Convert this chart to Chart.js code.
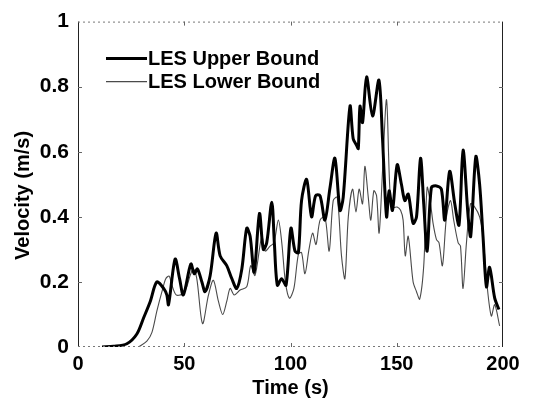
<!DOCTYPE html>
<html>
<head>
<meta charset="utf-8">
<script src="https://cdn.jsdelivr.net/npm/chart.js@4.4.1/dist/chart.umd.min.js"></script>
<style>
  html, body { margin: 0; padding: 0; background: #ffffff; }
  #wrap { width: 542px; height: 404px; }
</style>
</head>
<body>
<div id="wrap"><canvas id="c" width="542" height="404"></canvas></div>
<script>
// ---- Data ----
const seriesLabels = ['LES Upper Bound', 'LES Lower Bound'];

const upperTime = [11.3, 16.8, 23.0, 27.7, 30.9, 34.0, 37.1, 40.3, 41.8, 42.6, 45.7, 47.8, 49.6, 53.1, 54.7, 56.2, 58.3, 59.8, 62.2, 65.0, 66.9, 70.0, 72.4, 74.7, 77.1, 79.4, 81.0, 82.9, 85.4, 87.2, 88.8, 91.2, 92.4, 93.8, 95.8, 97.9, 100.2, 102.1, 103.7, 105.2, 107.6, 109.9, 111.8, 113.9, 116.2, 118.6, 120.9, 123.3, 124.8, 128.0, 129.5, 131.1, 131.9, 132.7, 133.9, 135.8, 138.6, 141.6, 143.3, 145.2, 146.4, 148.0, 150.2, 152.2, 153.8, 155.4, 157.7, 159.3, 161.2, 162.7, 164.3, 166.3, 168.7, 171.0, 172.6, 174.9, 177.3, 179.3, 181.2, 183.6, 184.8, 187.2, 189.0, 190.6, 192.2, 193.7, 196.1, 198.1];
const upperVel  = [0, 0.002, 0.01, 0.04, 0.09, 0.14, 0.20, 0.18, 0.16, 0.13, 0.27, 0.21, 0.16, 0.255, 0.225, 0.24, 0.20, 0.17, 0.22, 0.35, 0.28, 0.25, 0.21, 0.18, 0.24, 0.365, 0.34, 0.23, 0.41, 0.30, 0.32, 0.445, 0.32, 0.19, 0.21, 0.19, 0.365, 0.295, 0.29, 0.45, 0.515, 0.40, 0.465, 0.465, 0.39, 0.49, 0.58, 0.42, 0.46, 0.74, 0.64, 0.62, 0.61, 0.74, 0.69, 0.83, 0.71, 0.82, 0.64, 0.40, 0.48, 0.42, 0.56, 0.50, 0.45, 0.47, 0.38, 0.40, 0.58, 0.44, 0.295, 0.49, 0.495, 0.485, 0.39, 0.54, 0.44, 0.375, 0.605, 0.40, 0.34, 0.585, 0.50, 0.34, 0.185, 0.245, 0.15, 0.115];

const lowerTime = [28.5, 32.4, 34.8, 37.1, 39.5, 41.3, 42.9, 44.2, 46.2, 48.9, 50.9, 52.8, 54.3, 55.9, 58.6, 61.4, 63.7, 66.1, 68.1, 70.0, 71.6, 73.5, 76.3, 79.4, 81.3, 83.3, 86.5, 88.0, 90.4, 92.2, 94.3, 95.9, 97.6, 99.5, 101.6, 103.7, 105.2, 106.8, 108.7, 110.4, 112.0, 113.9, 116.2, 118.2, 120.1, 122.0, 124.0, 125.6, 127.2, 129.2, 130.8, 132.3, 133.9, 135.0, 136.6, 137.8, 139.2, 140.5, 141.7, 143.3, 145.2, 146.8, 148.3, 150.2, 151.8, 153.0, 154.0, 155.4, 157.7, 159.3, 160.8, 162.7, 164.3, 165.9, 167.1, 168.7, 169.9, 171.5, 173.4, 175.3, 176.8, 178.9, 180.0, 181.2, 182.8, 184.7, 186.7, 189.0, 190.6, 192.5, 194.5, 196.1, 198.4];
const lowerVel  = [0, 0.018, 0.045, 0.11, 0.17, 0.21, 0.218, 0.19, 0.16, 0.162, 0.18, 0.22, 0.24, 0.21, 0.072, 0.16, 0.205, 0.14, 0.10, 0.14, 0.18, 0.16, 0.175, 0.185, 0.25, 0.22, 0.34, 0.295, 0.31, 0.32, 0.39, 0.32, 0.20, 0.15, 0.18, 0.285, 0.29, 0.225, 0.30, 0.35, 0.315, 0.39, 0.40, 0.295, 0.45, 0.46, 0.28, 0.21, 0.40, 0.485, 0.415, 0.485, 0.44, 0.555, 0.46, 0.39, 0.48, 0.465, 0.35, 0.54, 0.76, 0.48, 0.43, 0.43, 0.42, 0.39, 0.28, 0.34, 0.20, 0.17, 0.147, 0.25, 0.49, 0.44, 0.38, 0.33, 0.32, 0.25, 0.40, 0.45, 0.39, 0.32, 0.31, 0.18, 0.32, 0.44, 0.43, 0.40, 0.34, 0.19, 0.095, 0.13, 0.065];

const xTicks = [0, 50, 100, 150, 200];
const xTickLabels = ['0', '50', '100', '150', '200'];
const yTicks = [0, 0.2, 0.4, 0.6, 0.8, 1];
const yTickLabels = ['0', '0.2', '0.4', '0.6', '0.8', '1'];

// ---- helpers ----
const FONT = "'Liberation Sans', Arial, Helvetica, sans-serif";
const toPoints = (xs, ys) => xs.map((x, i) => ({ x: x, y: ys[i] }));

const framePlugin = {
  id: 'frameAndLegend',
  afterDatasetsDraw(chart) {
    const { ctx, chartArea: a, scales } = chart;
    ctx.save();
    // frame
    ctx.lineWidth = 1;
    ctx.strokeStyle = '#222';
    ctx.setLineDash([]);
    ctx.beginPath();
    ctx.moveTo(a.left + 0.5, a.top); ctx.lineTo(a.left + 0.5, a.bottom);
    ctx.moveTo(a.right - 0.5, a.top); ctx.lineTo(a.right - 0.5, a.bottom);
    ctx.stroke();
    ctx.strokeStyle = '#777';
    ctx.setLineDash([2, 3]);
    ctx.beginPath();
    ctx.moveTo(a.left, a.top + 0.5); ctx.lineTo(a.right, a.top + 0.5);
    ctx.moveTo(a.left, a.bottom - 0.5); ctx.lineTo(a.right, a.bottom - 0.5);
    ctx.stroke();
    ctx.setLineDash([]);
    // small inward ticks
    ctx.strokeStyle = '#666';
    ctx.beginPath();
    xTicks.slice(1, -1).forEach(v => {
      const px = Math.round(scales.x.getPixelForValue(v)) + 0.5;
      ctx.moveTo(px, a.bottom); ctx.lineTo(px, a.bottom - 4);
      ctx.moveTo(px, a.top); ctx.lineTo(px, a.top + 4);
    });
    yTicks.slice(1, -1).forEach(v => {
      const py = Math.round(scales.y.getPixelForValue(v)) + 0.5;
      ctx.moveTo(a.left, py); ctx.lineTo(a.left + 4, py);
      ctx.moveTo(a.right, py); ctx.lineTo(a.right - 4, py);
    });
    ctx.stroke();
    // legend
    ctx.font = 'bold 20px ' + FONT;
    ctx.textBaseline = 'middle';
    ctx.textAlign = 'left';
    chart.data.datasets.forEach((ds, i) => {
      const y = a.top + 37 + i * 23;
      ctx.strokeStyle = ds.borderColor;
      ctx.lineWidth = ds.borderWidth;
      ctx.beginPath();
      ctx.moveTo(a.left + 28, y);
      ctx.lineTo(a.left + 69, y);
      ctx.stroke();
      ctx.fillStyle = '#000';
      ctx.fillText(ds.label, a.left + 70, y + 1);
    });
    ctx.restore();
  }
};

new Chart(document.getElementById('c'), {
  type: 'line',
  data: {
    datasets: [
      {
        label: seriesLabels[0],
        data: toPoints(upperTime, upperVel),
        borderColor: '#000000',
        borderWidth: 3,
        pointRadius: 0,
        tension: 0.3,
        fill: false
      },
      {
        label: seriesLabels[1],
        data: toPoints(lowerTime, lowerVel),
        borderColor: '#4a4a4a',
        borderWidth: 1.1,
        pointRadius: 0,
        tension: 0.3,
        fill: false
      }
    ]
  },
  options: {
    responsive: false,
    animation: false,
    layout: { padding: { top: 13, right: 39, left: 0, bottom: 0 } },
    plugins: {
      legend: { display: false },
      tooltip: { enabled: false }
    },
    scales: {
      x: {
        type: 'linear',
        min: 0,
        max: 200,
        afterFit: (s) => { s.height = 57; },
        afterBuildTicks: (s) => { s.ticks = xTicks.map(v => ({ value: v })); },
        grid: { display: false, drawTicks: false },
        border: { display: false },
        ticks: {
          color: '#000',
          padding: 5,
          callback: (v, i) => xTickLabels[i],
          font: { family: FONT, size: 20, weight: 'bold' }
        },
        title: {
          display: true,
          text: 'Time (s)',
          color: '#000',
          padding: { top: 0, bottom: 4 },
          font: { family: FONT, size: 20, weight: 'bold', lineHeight: 1.2 }
        }
      },
      y: {
        type: 'linear',
        min: 0,
        max: 1,
        afterFit: (s) => { s.width = 78; },
        afterBuildTicks: (s) => { s.ticks = yTicks.map(v => ({ value: v })); },
        grid: { display: false, drawTicks: false },
        border: { display: false },
        ticks: {
          color: '#000',
          padding: 9,
          callback: (v, i) => yTickLabels[i],
          font: { family: FONT, size: 21, weight: 'bold' }
        },
        title: {
          display: true,
          text: 'Velocity (m/s)    ',
          color: '#000',
          padding: { top: 11, bottom: 0 },
          font: { family: FONT, size: 20, weight: 'bold', lineHeight: 1.2 }
        }
      }
    }
  },
  plugins: [framePlugin]
});
</script>
</body>
</html>
